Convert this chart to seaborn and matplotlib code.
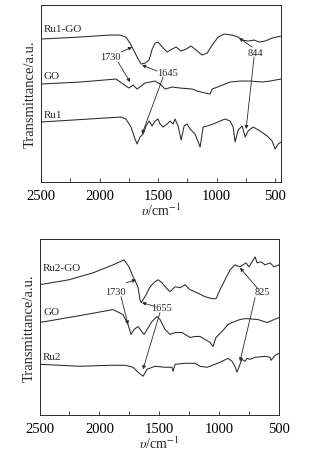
import numpy as np
import pandas as pd
import matplotlib
matplotlib.use("Agg")
import matplotlib.pyplot as plt
import seaborn as sns

# ---- panel 1 data (wavenumber / transmittance, a.u.) ----
ru1go_wn = [2500, 2170, 1910, 1825, 1775, 1740, 1705, 1670, 1645, 1610, 1577, 1550, 1525, 1500,
            1465, 1423, 1380, 1346, 1303, 1260, 1218, 1175, 1124, 1080, 1038, 987, 936, 868,
            816, 782, 731, 679, 637, 585, 526, 450]
ru1go_t = [143, 145, 147, 147, 145, 139, 131, 123, 118, 119, 122, 133, 139, 140,
           135, 130, 133, 135, 131, 133, 136, 132, 127, 129, 137, 145, 148, 147,
           145, 142, 141, 142, 140, 141, 144, 146]

go1_wn = [2500, 2167, 1859, 1799, 1748, 1714, 1679, 1611, 1568, 1526, 1483, 1440, 1380, 1312,
          1209, 1167, 1098, 1056, 1038, 970, 885, 799, 714, 611, 543, 450]
go1_t = [98, 100, 103, 98, 94, 97, 93, 99, 100, 101, 98, 93, 95, 94,
         93, 91, 89, 88, 93, 96, 100, 101, 101, 100, 101, 103]

ru1_wn = [2500, 1816, 1774, 1731, 1697, 1679, 1654, 1628, 1603, 1577, 1551, 1526, 1500, 1483,
          1457, 1423, 1397, 1372, 1355, 1329, 1303, 1278, 1252, 1227, 1184, 1141, 1115, 1081,
          1030, 970, 927, 885, 859, 842, 816, 782, 756, 731, 688, 628, 568, 526, 500, 474, 450]
ru1_t = [60, 65, 63, 55, 43, 38, 45, 48, 56, 61, 56, 61, 63, 58,
         55, 58, 61, 58, 63, 56, 42, 56, 58, 53, 48, 35, 55, 56,
         58, 61, 63, 61, 55, 40, 52, 56, 45, 51, 55, 51, 46, 41, 33, 38, 40]

# ---- panel 2 data ----
ru2go_wn = [2500, 2254, 2053, 1886, 1794, 1753, 1719, 1694, 1677, 1661, 1652, 1619, 1577, 1536,
            1510, 1477, 1444, 1410, 1368, 1326, 1285, 1243, 1185, 1118, 1059, 1026, 993, 951,
            909, 868, 826, 801, 776, 751, 725, 700, 683, 650, 617, 575, 542, 500]
ru2go_t = [131, 136, 143, 151, 156, 149, 139, 133, 128, 116, 113, 119, 129, 134,
           136, 133, 128, 124, 129, 128, 131, 126, 123, 119, 117, 117, 126, 136,
           146, 151, 149, 151, 153, 149, 154, 159, 153, 154, 151, 153, 149, 151]

go2_wn = [2500, 2162, 1886, 1803, 1761, 1736, 1711, 1678, 1653, 1627, 1602, 1561, 1519, 1494,
          1452, 1410, 1368, 1310, 1243, 1200, 1159, 1118, 1076, 1051, 1026, 976, 926, 892,
          826, 776, 676, 600, 500]
go2_t = [93, 100, 106, 101, 91, 81, 86, 89, 85, 81, 86, 94, 99, 96,
         86, 81, 83, 83, 78, 79, 79, 76, 73, 69, 78, 84, 91, 93,
         96, 97, 96, 93, 98]

ru2_wn = [2500, 2162, 1911, 1786, 1719, 1677, 1636, 1602, 1536, 1452, 1394, 1385, 1368, 1285,
          1200, 1159, 1101, 1034, 976, 926, 892, 868, 851, 826, 809, 784, 767, 742, 700,
          617, 575, 567, 533, 500]
ru2_t = [51, 49, 50, 50, 48, 43, 39, 46, 49, 48, 48, 44, 51, 52,
         52, 49, 48, 51, 54, 57, 54, 49, 43, 51, 56, 54, 57, 56, 58,
         59, 58, 55, 60, 62]

sns.set_style("ticks")
plt.rcParams['font.family'] = ['Liberation Serif', 'DejaVu Serif']
plt.rcParams['mathtext.fontset'] = 'stix'

fig = plt.figure(figsize=(3.09, 4.56), dpi=100)
ax1 = fig.add_axes([0.1327, 0.5987, 0.7767, 0.388])
ax2 = fig.add_axes([0.128, 0.0877, 0.775, 0.386])

lc = '#2a2a2a'
lw = 0.75


def draw(ax, series, xmin):
    for wn, t in series:
        df = pd.DataFrame({'wn': wn, 't': t})
        sns.lineplot(data=df, x='wn', y='t', ax=ax, color=lc, linewidth=lw, sort=False)
    ax.set_xlim(2500, xmin)
    ax.set_ylim(0, 177)
    ax.set_yticks([])
    ax.set_xticks([2500, 2000, 1500, 1000, 500])
    ax.set_xticks(np.arange(2250, xmin, -500), minor=True)
    ax.tick_params(axis='x', which='both', direction='in', length=3, width=0.6,
                   labelsize=10.5, pad=5, colors=lc, labelcolor='black')
    ax.set_xlabel(r'$\upsilon$/cm$^{-1}$', fontsize=10, labelpad=0)
    ax.set_ylabel('Transmittance/a.u.', fontsize=10.5, labelpad=3)
    for s in ax.spines.values():
        s.set_linewidth(0.7)
        s.set_color(lc)


def arrow(ax, xy, xytext):
    ax.annotate('', xy=xy, xytext=xytext,
                arrowprops=dict(arrowstyle='-|>', color=lc, lw=0.6,
                                mutation_scale=5, shrinkA=0, shrinkB=0))


draw(ax1, [(ru1go_wn, ru1go_t), (go1_wn, go1_t), (ru1_wn, ru1_t)], 450)
draw(ax2, [(ru2go_wn, ru2go_t), (go2_wn, go2_t), (ru2_wn, ru2_t)], 500)

# curve names
for ax, names, ys, x0 in [(ax1, ['Ru1-GO', 'GO', 'Ru1'], [154, 107, 68], 2480),
                          (ax2, ['Ru2-GO', 'GO', 'Ru2'], [148, 104, 59], 2470)]:
    for n, y in zip(names, ys):
        ax.text(x0, y, n, fontsize=8, ha='left', va='center')

# peak markers, panel 1
ax1.text(1910, 126, '1730', fontsize=7.5, ha='center', va='center')
arrow(ax1, (1722, 135), (1816, 130))
arrow(ax1, (1739, 100), (1842, 120))
ax1.text(1415, 110, '1645', fontsize=7.5, ha='center', va='center')
arrow(ax1, (1637, 117), (1509, 111))
arrow(ax1, (1637, 48), (1457, 105))
ax1.text(671, 130, '844', fontsize=7.5, ha='center', va='center')
arrow(ax1, (808, 144), (697, 135))
arrow(ax1, (748, 53), (680, 125))

# peak markers, panel 2
ax2.text(1869, 124, '1730', fontsize=7.5, ha='center', va='center')
arrow(ax2, (1694, 136), (1778, 133))
arrow(ax2, (1761, 91), (1819, 119))
ax2.text(1477, 108, '1655', fontsize=7.5, ha='center', va='center')
arrow(ax2, (1644, 113), (1535, 109))
arrow(ax2, (1636, 46), (1494, 103))
ax2.text(642, 124, '825', fontsize=7.5, ha='center', va='center')
arrow(ax2, (826, 148), (676, 127))
arrow(ax2, (826, 54), (700, 118))

fig.savefig('out.png', dpi=100)
